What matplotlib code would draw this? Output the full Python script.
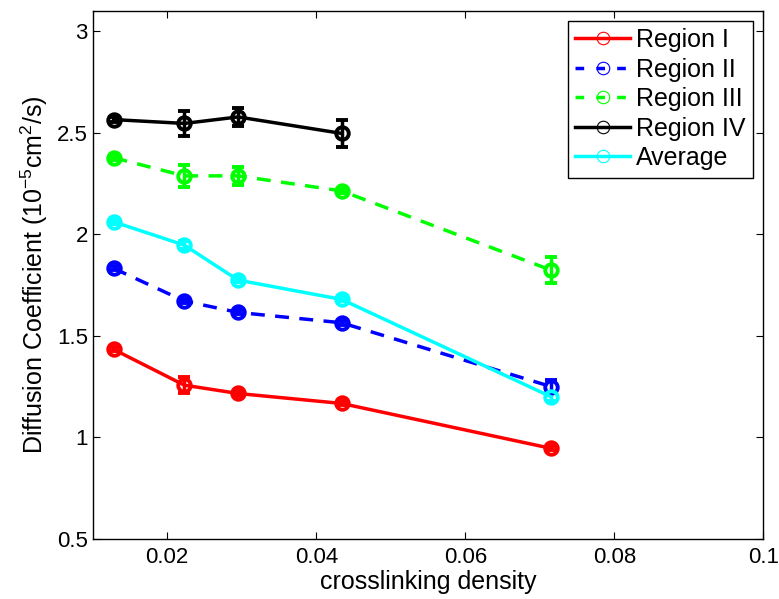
import numpy as np
import matplotlib
matplotlib.use('Agg')
import matplotlib.pyplot as plt

plt.rcParams['font.family'] = ['Liberation Sans', 'DejaVu Sans']
plt.rcParams['mathtext.fontset'] = 'custom'
plt.rcParams['mathtext.rm'] = 'Liberation Sans'
plt.rcParams['mathtext.it'] = 'Liberation Sans:italic'

# crosslinking density
x = [0.0128, 0.0223, 0.0295, 0.0434, 0.0715]

region1 = [1.433, 1.257, 1.216, 1.167, 0.946]
region1_err = [0.01, 0.038, 0.012, 0.01, 0.01]
region2 = [1.832, 1.671, 1.615, 1.564, 1.250]
region2_err = [0.01, 0.012, 0.01, 0.01, 0.03]
region3 = [2.376, 2.287, 2.287, 2.213, 1.823]
region3_err = [0.01, 0.055, 0.045, 0.01, 0.064]
region4 = [2.564, 2.545, 2.577, 2.496]
region4_err = [0.012, 0.06, 0.045, 0.065]
average = [2.061, 1.946, 1.774, 1.679, 1.200]
average_err = [0.01, 0.02, 0.01, 0.01, 0.02]

series = [
    ('Region I', x, region1, region1_err, (1, 0, 0), '-'),
    ('Region II', x, region2, region2_err, (0, 0, 1), '--'),
    ('Region III', x, region3, region3_err, (0, 1, 0), '--'),
    ('Region IV', x[:4], region4, region4_err, (0, 0, 0), '-'),
    ('Average', x, average, average_err, (0, 1, 1), '-'),
]

fig = plt.figure(figsize=(7.79, 5.99), dpi=100)
ax = fig.add_axes([0.119, 0.1002, 0.861, 0.882])

handles = []
for name, xs, ys, es, col, ls in series:
    eb = ax.errorbar(xs, ys, yerr=es, color=col, ls=ls, lw=2.5,
                     marker='o', ms=9, mfc='none', mew=2.8,
                     elinewidth=2.5, capsize=4, capthick=2.5)
    if ls == '--':
        eb[0].set_dashes((4, 3))
    h, = ax.plot([], [], color=col, ls=ls, lw=2.5, marker='o', ms=9,
                 mfc='none', mew=0.8, label=name)
    if ls == '--':
        h.set_dashes((2.5, 3.5))
    handles.append(h)

ax.set_xlim(0.01, 0.1)
ax.set_ylim(0.5, 3.1)
ax.set_xticks([0.02, 0.04, 0.06, 0.08, 0.1])
ax.set_xticklabels(['0.02', '0.04', '0.06', '0.08', '0.1'])
ax.set_yticks([0.5, 1, 1.5, 2, 2.5, 3])
ax.set_yticklabels(['0.5', '1', '1.5', '2', '2.5', '3'])
ax.tick_params(direction='in', length=5, labelsize=16, top=True, right=True)
ax.tick_params(axis='x', pad=6)
for s in ax.spines.values():
    s.set_linewidth(1)

ax.set_xlabel('crosslinking density', fontsize=18, labelpad=1)
ax.set_ylabel(r'Diffusion Coefficient (10$^{-5}$cm$^2$/s)', fontsize=18, labelpad=5)

leg = ax.legend(handles=handles, loc='upper right', fontsize=18, fancybox=False,
                edgecolor='black', framealpha=1, handlelength=2.2,
                borderpad=0.3, labelspacing=0.22, handletextpad=0.25,
                borderaxespad=0.4)
leg.get_frame().set_linewidth(1)

fig.savefig('out.png', dpi=100)
